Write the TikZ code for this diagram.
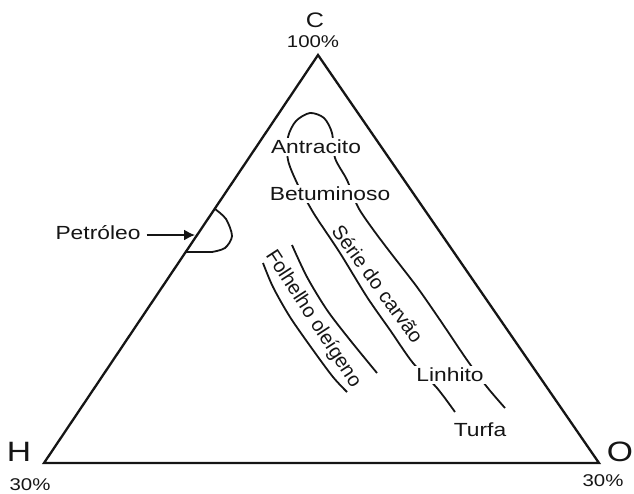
\documentclass[tikz,border=0pt]{standalone}
\usepackage{fontspec}
\setmainfont{Liberation Sans}[FakeStretch=1.2]
\newfontfamily\tiltfont{Liberation Sans}
\usetikzlibrary{arrows.meta}
\definecolor{dgink}{HTML}{151515}

\begin{document}
\begin{tikzpicture}[
  x=1pt,y=-1pt,
  every node/.style={font=\fontsize{19}{22}\selectfont,text=dgink,inner sep=2pt},
  edge/.style={line width=2.3pt,draw=dgink,line join=miter},
  curve/.style={line width=1.8pt,draw=dgink},
  rank/.style={fill=white},
  series/.style={font=\tiltfont\fontsize{20}{24}\selectfont},
  corner/.style={font=\fontsize{28}{32}\selectfont},
  pct/.style={font=\fontsize{17}{20}\selectfont},
  arrow/.style={-{Latex[length=11pt,width=11pt]},line width=1.6pt,draw=dgink}
]
\useasboundingbox (0,0) rectangle (634,493);
% triangle
\coordinate (h) at (44,463);
\coordinate (o) at (599,463);
\coordinate (c) at (318,55);
\draw[edge] (h) -- (o) -- (c) -- cycle;
\node[corner] (hlab) at (19,452) {H};
\node[corner] (olab) at (620,452) {O};
\node[font=\fontsize{21}{24}\selectfont] (clab) at (315,20) {C};
\node[pct] (cpct) at (313,42) {100\%};
\node[pct] (hpct) at (30,485) {30\%};
\node[pct] (opct) at (603,481) {30\%};
% petroleo
\draw[curve] plot[smooth] coordinates {(215,209) (226,219) (232,236) (225,248) (212,252)} -- (186,252);
\node (petro) at (98,233) {Petróleo};
\coordinate (tip) at (195,235);
\draw[arrow] (petro.east) ++(4,2) -- (tip);
% serie do carvao
\draw[curve] plot[smooth] coordinates {(455,412) (437,388) (413,363) (390,330) (367,297) (340,253) (318,220) (310,207) (297,183) (288,160) (288,137) (296,121) (310,113) (324,118) (332,133) (335,158) (347,180) (358,207) (372,228) (390,252) (417,287) (440,320) (467,360) (487,387) (505,408)};
\node[rank] (antra) at (316,147) {Antracito};
\node[rank] (betum) at (330,194) {Betuminoso};
\node[rank] (linhi) at (450,375) {Linhito};
\node[rank] (turfa) at (480,430) {Turfa};
\node[series,rotate=-54] (carvao) at (378,284) {Série do carvão};
% folhelho
\draw[curve] plot[smooth] coordinates {(263,263) (273,287) (290,317) (313,350) (333,377) (347,392)};
\draw[curve] plot[smooth] coordinates {(292,245) (307,277) (327,310) (350,340) (377,373)};
\node[series,rotate=-57] (folhe) at (313,319) {Folhelho oleígeno};
\end{tikzpicture}
\end{document}
